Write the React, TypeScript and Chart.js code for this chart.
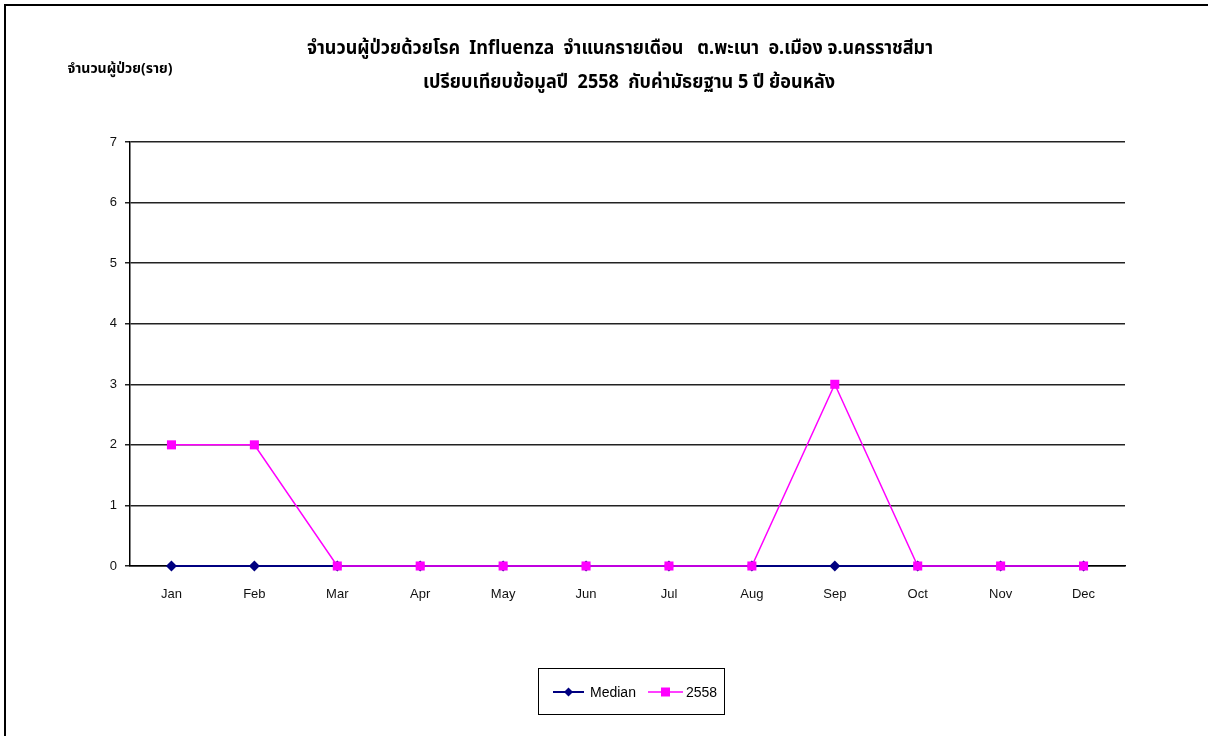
import React, { useEffect, useRef } from "react";
import { Chart, registerables } from "chart.js";

Chart.register(...registerables);

const months = ["Jan", "Feb", "Mar", "Apr", "May", "Jun", "Jul", "Aug", "Sep", "Oct", "Nov", "Dec"];
const medianValues = [0, 0, 0, 0, 0, 0, 0, 0, 0, 0, 0, 0];
const values2558 = [2, 2, 0, 0, 0, 0, 0, 0, 3, 0, 0, 0];
const titleLines = [
  "จำนวนผู้ป่วยด้วยโรค  Influenza  จำแนกรายเดือน   ต.พะเนา  อ.เมือง จ.นครราชสีมา",
  "เปรียบเทียบข้อมูลปี  2558  กับค่ามัธยฐาน 5 ปี ย้อนหลัง",
];
const yAxisTitle = "จำนวนผู้ป่วย(ราย)";

const THAI_FONT = "Tahoma, 'Noto Sans Thai', 'Noto Sans Thai UI', 'Liberation Sans', sans-serif";
const AXIS_FONT = "'Liberation Sans', Arial, sans-serif";

const decorPlugin = {
  id: "decor",
  beforeDraw(chart: any) {
    const ctx = chart.ctx;
    ctx.save();
    ctx.fillStyle = "#ffffff";
    ctx.fillRect(0, 0, chart.width, chart.height);
    ctx.strokeStyle = "#000";
    ctx.lineWidth = 2;
    ctx.beginPath();
    ctx.moveTo(5, chart.height);
    ctx.lineTo(5, 5);
    ctx.lineTo(chart.width, 5);
    ctx.stroke();
    ctx.restore();
  },
  afterDraw(chart: any) {
    const ctx = chart.ctx;
    ctx.save();
    ctx.fillStyle = "#000";
    ctx.textAlign = "center";
    ctx.textBaseline = "middle";
    ctx.font = `bold 19px ${THAI_FONT}`;
    ctx.fillText(titleLines[0], 620, 50, 626);
    ctx.fillText(titleLines[1], 629, 84, 412);
    ctx.font = `bold 14px ${THAI_FONT}`;
    ctx.fillText(yAxisTitle, 120, 70, 116);

    // legend
    const bx = 538, by = 668, bw = 186, bh = 46;
    ctx.strokeStyle = "#000";
    ctx.lineWidth = 1;
    ctx.strokeRect(bx + 0.5, by + 0.5, bw, bh);
    const cy = by + bh / 2 + 1;
    const ds = chart.data.datasets;
    const entries = [
      { x0: 553, x1: 584, tx: 590, d: ds[0] },
      { x0: 648, x1: 683, tx: 686, d: ds[1] },
    ];
    ctx.font = `14px ${AXIS_FONT}`;
    ctx.textAlign = "left";
    entries.forEach((e) => {
      ctx.strokeStyle = e.d.borderColor;
      ctx.lineWidth = e.d.borderWidth;
      ctx.beginPath();
      ctx.moveTo(e.x0, cy);
      ctx.lineTo(e.x1, cy);
      ctx.stroke();
      const mx = (e.x0 + e.x1) / 2;
      ctx.fillStyle = e.d.pointBackgroundColor;
      ctx.beginPath();
      if (e.d.pointStyle === "rect") {
        ctx.rect(mx - 4.5, cy - 4.5, 9, 9);
      } else {
        ctx.moveTo(mx, cy - 4.5);
        ctx.lineTo(mx + 4.5, cy);
        ctx.lineTo(mx, cy + 4.5);
        ctx.lineTo(mx - 4.5, cy);
        ctx.closePath();
      }
      ctx.fill();
      ctx.fillStyle = "#000";
      ctx.fillText(e.d.label, e.tx, cy + 1);
    });
    ctx.restore();
  },
};

export default function App() {
  const ref = useRef<HTMLCanvasElement | null>(null);
  useEffect(() => {
    if (!ref.current) return;
    const chart = new Chart(ref.current, {
      type: "line",
      data: {
        labels: months,
        datasets: [
          {
            label: "Median",
            data: medianValues,
            borderColor: "#000080",
            backgroundColor: "#000080",
            pointBackgroundColor: "#000080",
            pointBorderColor: "#000080",
            borderWidth: 2,
            pointStyle: "rectRot",
            pointRadius: 5.5,
            pointBorderWidth: 0,
            tension: 0,
            clip: false,
            order: 2,
          },
          {
            label: "2558",
            data: values2558,
            borderColor: "#ff00ff",
            backgroundColor: "#ff00ff",
            pointBackgroundColor: "#ff00ff",
            pointBorderColor: "#ff00ff",
            borderWidth: 1.5,
            pointStyle: "rect",
            pointRadius: 6.4,
            pointBorderWidth: 0,
            tension: 0,
            clip: false,
            order: 1,
          },
        ],
      },
      options: {
        responsive: false,
        animation: false,
        layout: { padding: { left: 0, top: 142, right: 83, bottom: 130 } },
        plugins: {
          legend: { display: false },
          title: { display: false },
          tooltip: { enabled: false },
        },
        scales: {
          x: {
            offset: true,
            grid: { display: false, drawTicks: false },
            border: { display: true, color: "#000", width: 1.5 },
            ticks: { color: "#111", font: { family: AXIS_FONT, size: 13 }, padding: 21, maxRotation: 0 },
            afterFit: (s: any) => { s.height = 40; },
          },
          y: {
            min: 0,
            max: 7,
            grid: { color: "#222", lineWidth: 1.5, drawTicks: true, tickLength: 5 },
            border: { display: true, color: "#000", width: 1.5 },
            ticks: { stepSize: 1, color: "#111", font: { family: AXIS_FONT, size: 13 }, padding: 8 },
            afterFit: (s: any) => { s.width = 130; },
          },
        },
      },
      plugins: [decorPlugin],
    } as any);
    return () => chart.destroy();
  }, []);
  return (
    <div style={{ position: "fixed", left: 0, top: 0, width: 1208, height: 736, background: "#fff" }}>
      <canvas ref={ref} width={1208} height={736} style={{ display: "block" }} />
    </div>
  );
}
